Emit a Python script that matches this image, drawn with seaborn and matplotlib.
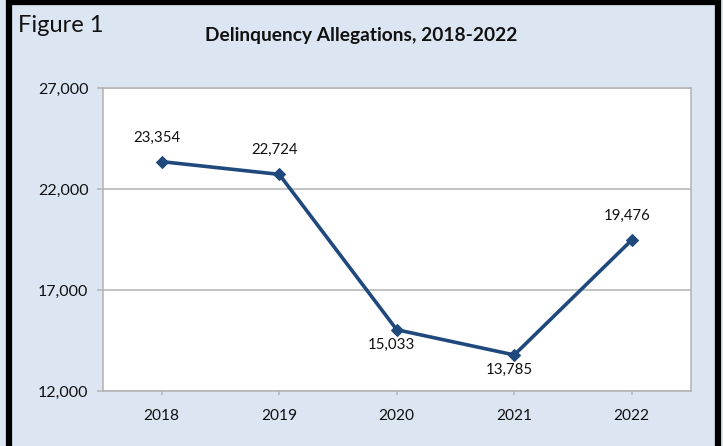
import matplotlib
matplotlib.use("Agg")
import matplotlib.pyplot as plt
import seaborn as sns
import pandas as pd
from matplotlib.patches import Rectangle
from matplotlib.ticker import FuncFormatter

years = ["2018", "2019", "2020", "2021", "2022"]
allegations = [23354, 22724, 15033, 13785, 19476]
label_above = [True, True, False, False, True]
y_ticks = [12000, 17000, 22000, 27000]

bg = "#dce6f2"
line_col = "#1f497d"
grid_col = "#b3b3b3"

sns.set_theme(style="white")
plt.rcParams["font.family"] = ["Lato", "DejaVu Sans"]

df = pd.DataFrame({"year": years, "count": allegations})

W, H = 723, 446
fig = plt.figure(figsize=(W / 100, H / 100), dpi=100, facecolor=bg)
ax = fig.add_axes([103 / W, (H - 391) / H, (690.5 - 103) / W, (391 - 88) / H])
ax.set_facecolor("white")

sns.lineplot(data=df, x="year", y="count", ax=ax, color=line_col, linewidth=2.6,
             marker="D", markersize=6.5, markeredgecolor=line_col, zorder=3)

ax.set_xlim(-0.5, 4.5)
ax.set_ylim(12000, 27000)
ax.set_yticks(y_ticks)
ax.yaxis.set_major_formatter(FuncFormatter(lambda v, p: f"{int(v):,}"))
ax.grid(axis="y", color=grid_col, linewidth=1.1)
ax.set_axisbelow(True)
ax.set_xlabel("")
ax.set_ylabel("")

for s in ax.spines.values():
    s.set_color(grid_col)
    s.set_linewidth(1.1)

ax.tick_params(axis="y", direction="out", length=4.5, width=1.1, color=grid_col,
               pad=6, labelsize=11.5, labelcolor="#111111", left=True)
ax.tick_params(axis="x", direction="out", length=3, width=1.1, color=grid_col,
               pad=10, labelsize=11.2, labelcolor="#111111", bottom=True)

for i, (v, up) in enumerate(zip(allegations, label_above)):
    dy = 24 if up else -15
    ax.annotate(f"{v:,}", (i, v), xytext=(-5, dy), textcoords="offset pixels",
                ha="center", va="center", fontsize=10.8, color="#111111")

fig.text(18 / W, 1 - 25 / H, "Figure 1", fontsize=17, ha="left", va="center", color="#111111")
fig.text(361 / W, 1 - 35 / H, "Delinquency Allegations, 2018-2022", fontsize=13.8,
         fontweight="bold", ha="center", va="center", color="#111111")

# black frame around the figure (runs off the bottom edge)
fig.patches.append(Rectangle((8.5 / W, -0.05), (717.5 - 8.5) / W, 1.05 - 2 / H,
                             transform=fig.transFigure, fill=False,
                             edgecolor="black", linewidth=4.5, zorder=10))

fig.savefig("out.png", dpi=100, facecolor=bg)
